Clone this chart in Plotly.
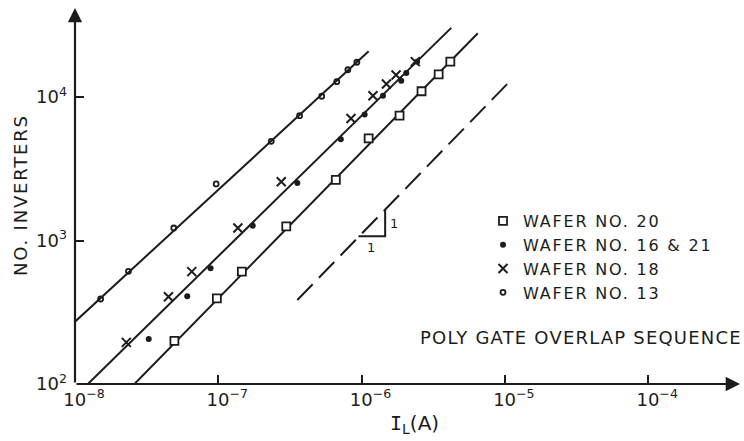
import plotly.graph_objects as go

# Leakage current I_L (A) vs number of inverters, per wafer
w20_x = [4.94e-8, 9.77e-8, 1.46e-7, 2.98e-7, 6.61e-7, 1.12e-6, 1.84e-6, 2.62e-6, 3.45e-6, 4.16e-6]
w20_y = [200, 395, 607, 1253, 2644, 5150, 7410, 10970, 14390, 17630]

w16_x = [3.27e-8, 6.07e-8, 8.83e-8, 1.74e-7, 3.56e-7, 7.16e-7, 1.05e-6, 1.41e-6, 1.89e-6, 2.05e-6, 2.44e-6]
w16_y = [206, 408, 640, 1268, 2518, 5070, 7540, 10210, 13000, 14690, 17630]

w18_x = [2.28e-8, 4.49e-8, 6.53e-8, 1.37e-7, 2.75e-7, 8.43e-7, 1.20e-6, 1.49e-6, 1.74e-6, 2.37e-6]
w18_y = [195, 406, 607, 1222, 2570, 7080, 10210, 12330, 14230, 17630]

w13_x = [1.51e-8, 2.36e-8, 4.89e-8, 9.66e-8, 2.34e-7, 3.69e-7, 5.27e-7, 6.71e-7, 8.02e-7, 9.27e-7]
w13_y = [391, 610, 1222, 2477, 4910, 7410, 10120, 12790, 15490, 17460]

# fitted lines (end points)
fit13_x = [1.0e-8, 1.12e-6]
fit13_y = [272, 20800]
fit_mid_x = [1.23e-8, 4.22e-6]
fit_mid_y = [100, 30300]
fit20_x = [2.60e-8, 6.47e-6]
fit20_y = [100, 27800]

# poly gate overlap sequence (dashed) and its 1:1 slope triangle
seq_x = [3.56e-7, 1.11e-5]
seq_y = [385, 13200]
tri_x = [9.5e-7, 1.46e-6, 1.46e-6]
tri_y = [1069, 1069, 1650]

x_ticks = [1e-8, 1e-7, 1e-6, 1e-5, 1e-4]
x_ticktext = ["10<sup>−8</sup>", "10<sup>−7</sup>", "10<sup>−6</sup>", "10<sup>−5</sup>", "10<sup>−4</sup>"]
y_ticks = [1e2, 1e3, 1e4]
y_ticktext = ["10<sup>2</sup>", "10<sup>3</sup>", "10<sup>4</sup>"]

INK = "#1c1c1c"
FONT = "DejaVu Sans"


def spaced(s, sp=1.2):
    return f'<span style="letter-spacing:{sp}px">{s}</span>'


fig = go.Figure()

line_style = dict(color=INK, width=2)
for xs, ys in [(fit13_x, fit13_y), (fit_mid_x, fit_mid_y), (fit20_x, fit20_y)]:
    fig.add_trace(go.Scatter(x=xs, y=ys, mode="lines", line=line_style,
                             showlegend=False, hoverinfo="skip"))
fig.add_trace(go.Scatter(x=seq_x, y=seq_y, mode="lines",
                         line=dict(color=INK, width=2, dash="22px,9px"),
                         showlegend=False, hoverinfo="skip"))
fig.add_trace(go.Scatter(x=tri_x, y=tri_y, mode="lines", line=line_style,
                         showlegend=False, hoverinfo="skip"))

fig.add_trace(go.Scatter(x=w20_x, y=w20_y, mode="markers", name=spaced("WAFER NO. 20", 1.8),
                         marker=dict(symbol="square", size=8, color="white",
                                     line=dict(color=INK, width=1.8))))
fig.add_trace(go.Scatter(x=w16_x, y=w16_y, mode="markers", name=spaced("WAFER NO. 16 &amp; 21", 1.8),
                         marker=dict(symbol="circle", size=6, color=INK)))
fig.add_trace(go.Scatter(x=w18_x, y=w18_y, mode="markers", name=spaced("WAFER NO. 18", 1.8),
                         marker=dict(symbol="x-thin-open", size=9, color=INK,
                                     line=dict(color=INK, width=2))))
fig.add_trace(go.Scatter(x=w13_x, y=w13_y, mode="markers", name=spaced("WAFER NO. 13", 1.8),
                         marker=dict(symbol="circle-open", size=5, color=INK,
                                     line=dict(color=INK, width=1.8))))

L, R, T, B = 75, 4, 8, 57
W, H = 744, 441
pw, ph = W - L - R, H - T - B
DEC = 143.3  # pixels per decade


def px_x(p):
    return (p - L) / pw


def px_y(p):
    return (H - B - p) / ph


axis_common = dict(type="log", showgrid=False, zeroline=False, showline=False,
                   ticks="inside", ticklen=9, tickwidth=2, tickcolor=INK,
                   tickfont=dict(family=FONT, size=18, color=INK))

fig.update_layout(
    width=W, height=H,
    margin=dict(l=L, r=R, t=T, b=B),
    paper_bgcolor="white", plot_bgcolor="white",
    xaxis=dict(range=[-8, -8 + pw / DEC], tickvals=x_ticks, ticktext=x_ticktext,
               ticklabelstandoff=3, ticklabelshift=9, **axis_common),
    yaxis=dict(range=[2, 2 + ph / 143.5], tickvals=y_ticks, ticktext=y_ticktext,
               ticklabelstandoff=7, **axis_common),
    legend=dict(x=px_x(483), y=px_y(204), xanchor="left", yanchor="top",
                bgcolor="rgba(0,0,0,0)", borderwidth=0, itemwidth=30,
                font=dict(family=FONT, size=16, color=INK)),
    showlegend=True,
)

txt = dict(family=FONT, size=18, color=INK)
annotations = [
    # axis lines with arrow heads
    dict(x=1, y=0, xref="x domain", yref="y domain", ax=-pw, ay=0,
         showarrow=True, arrowhead=2, arrowsize=1.3, arrowwidth=2.2,
         arrowcolor=INK, text="", standoff=0),
    dict(x=0, y=1, xref="x domain", yref="y domain", ax=0, ay=ph,
         showarrow=True, arrowhead=2, arrowsize=1.3, arrowwidth=2.2,
         arrowcolor=INK, text="", standoff=0),
    # axis titles
    dict(x=px_x(20), y=px_y(195), xref="paper", yref="paper", showarrow=False,
         xanchor="center", yanchor="middle",
         text=spaced("NO. INVERTERS", 1.8), textangle=-90, font=txt),
    dict(x=px_x(414), y=px_y(424), xref="paper", yref="paper", showarrow=False,
         xanchor="center", yanchor="middle",
         text="<span style=\"font-family:'DejaVu Sans Mono'\">I</span><sub>L</sub>(A)",
         font=dict(family=FONT, size=20, color=INK)),
    dict(x=px_x(581), y=px_y(337), xref="paper", yref="paper", showarrow=False,
         xanchor="center", yanchor="middle",
         text=spaced("POLY GATE OVERLAP SEQUENCE", 1.2), font=txt),
    # slope triangle labels (log-axis units)
    dict(x=-5.933, y=2.953, xref="x", yref="y", showarrow=False, text="1",
         xanchor="center", yanchor="middle", font=dict(family=FONT, size=13, color=INK)),
    dict(x=-5.775, y=3.120, xref="x", yref="y", showarrow=False, text="1",
         xanchor="center", yanchor="middle", font=dict(family=FONT, size=13, color=INK)),
]
fig.update_layout(annotations=annotations)

fig.write_html("out.html")
